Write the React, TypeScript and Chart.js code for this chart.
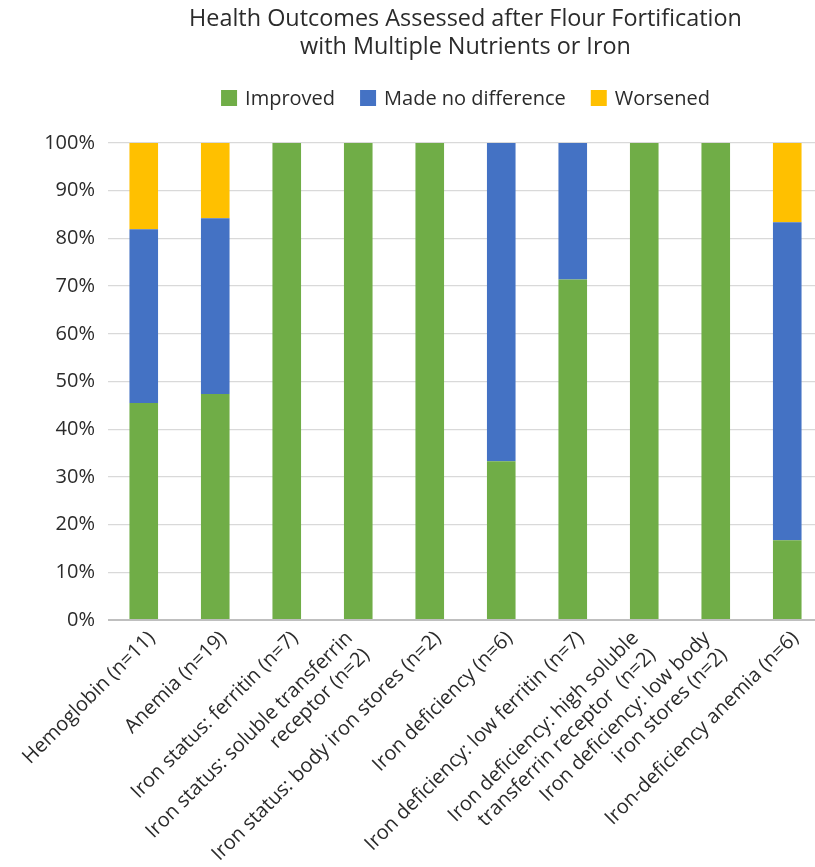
import React, { useEffect, useRef } from "react";
import { Chart, registerables } from "chart.js";

Chart.register(...registerables);

const FONT = "'Open Sans', 'Noto Sans', sans-serif";
const TEXT_COLOR = "#2b2b2b";

const titleLines = ["Health Outcomes Assessed after Flour Fortification", "with Multiple Nutrients or Iron"];

const categories: string[][] = [
  ["Hemoglobin (n=11)"],
  ["Anemia (n=19)"],
  ["Iron status: ferritin (n=7)"],
  ["Iron status: soluble transferrin", "receptor (n=2)"],
  ["Iron status: body iron stores (n=2)"],
  ["Iron deficiency (n=6)"],
  ["Iron deficiency: low ferritin (n=7)"],
  ["Iron deficiency: high soluble", "transferrin receptor  (n=2)"],
  ["Iron deficiency: low body", "iron stores (n=2)"],
  ["Iron-deficiency anemia (n=6)"],
];

const improved = [45.5, 47.4, 100, 100, 100, 33.3, 71.4, 100, 100, 16.7];
const noDifference = [36.4, 36.8, 0, 0, 0, 66.7, 28.6, 0, 0, 66.7];
const worsened = [18.2, 15.8, 0, 0, 0, 0, 0, 0, 0, 16.7];

const seriesNames = ["Improved", "Made no difference", "Worsened"];
const seriesColors = ["#70AD47", "#4472C4", "#FFC000"];

const yTicks = [0, 10, 20, 30, 40, 50, 60, 70, 80, 90, 100];

const decorPlugin = {
  id: "decor",
  afterDraw(chart: any) {
    const ctx = chart.ctx as CanvasRenderingContext2D;
    const area = chart.chartArea;
    const cx = (area.left + area.right) / 2;
    ctx.save();
    ctx.fillStyle = TEXT_COLOR;
    // title
    ctx.font = `23.4px ${FONT}`;
    ctx.textAlign = "center";
    ctx.textBaseline = "alphabetic";
    titleLines.forEach((t, i) => ctx.fillText(t, cx, 26 + i * 28));

    // legend
    ctx.font = `20px ${FONT}`;
    const box = 16;
    const gap = 8;
    const spacing = 25;
    const widths = seriesNames.map((s) => box + gap + ctx.measureText(s).width);
    const total = widths.reduce((a, b) => a + b, 0) + spacing * (seriesNames.length - 1);
    let x = cx - total / 2;
    const ly = 98;
    ctx.textAlign = "left";
    ctx.textBaseline = "middle";
    seriesNames.forEach((s, i) => {
      ctx.fillStyle = seriesColors[i];
      ctx.fillRect(x, ly - box / 2, box, box);
      ctx.fillStyle = TEXT_COLOR;
      ctx.fillText(s, x + box + gap, ly + 1);
      x += widths[i] + spacing;
    });

    // x labels
    const xs = chart.scales.x;
    ctx.font = `20px ${FONT}`;
    ctx.textAlign = "right";
    ctx.textBaseline = "top";
    const lh = 24;
    const d = (lh * Math.SQRT2) / 2;
    categories.forEach((lines, i) => {
      const px = xs.getPixelForTick(i);
      const n = lines.length;
      ctx.save();
      ctx.translate(px + 1 - (n - 1) * d, area.bottom + 8);
      ctx.rotate(-Math.PI / 4);
      lines.forEach((l, j) => ctx.fillText(l, 0, j * lh));
      ctx.restore();
    });
    ctx.restore();
  },
};

export default function App() {
  const ref = useRef<HTMLCanvasElement | null>(null);
  useEffect(() => {
    if (!ref.current) return;
    const chart = new Chart(ref.current, {
      type: "bar",
      data: {
        labels: categories.map((c) => c.join(" ")),
        datasets: [
          { label: seriesNames[0], data: improved, backgroundColor: seriesColors[0] },
          { label: seriesNames[1], data: noDifference, backgroundColor: seriesColors[1] },
          { label: seriesNames[2], data: worsened, backgroundColor: seriesColors[2] },
        ],
      },
      options: {
        responsive: false,
        animation: false,
        devicePixelRatio: 1,
        layout: { padding: { top: 143, bottom: 247, left: 0, right: 0 } },
        datasets: { bar: { barPercentage: 0.4, categoryPercentage: 1.0 } },
        plugins: {
          legend: { display: false },
          title: { display: false },
          tooltip: { enabled: false },
        },
        scales: {
          x: {
            stacked: true,
            grid: { display: false },
            border: { display: false },
            ticks: { display: false },
            afterFit: (s: any) => {
              s.height = 0;
            },
          },
          y: {
            stacked: true,
            min: 0,
            max: 100,
            afterBuildTicks: (s: any) => {
              s.ticks = yTicks.map((v) => ({ value: v }));
            },
            afterFit: (s: any) => {
              s.width = 108;
            },
            border: { display: false },
            grid: {
              drawTicks: false,
              color: (c: any) => (c.tick && c.tick.value === 0 ? "#BFBFBF" : "#D9D9D9"),
              lineWidth: (c: any) => (c.tick && c.tick.value === 0 ? 2 : 1.3),
            },
            ticks: {
              padding: 13,
              color: TEXT_COLOR,
              font: { family: FONT, size: 20 },
              callback: (v: any) => `${v}%`,
            },
          },
        },
      },
      plugins: [decorPlugin],
    });
    return () => chart.destroy();
  }, []);
  return (
    <div style={{ position: "absolute", left: 0, top: 0, width: 815, height: 867, overflow: "hidden", background: "#fff" }}>
      <canvas ref={ref} width={823} height={867} style={{ display: "block" }} />
    </div>
  );
}
